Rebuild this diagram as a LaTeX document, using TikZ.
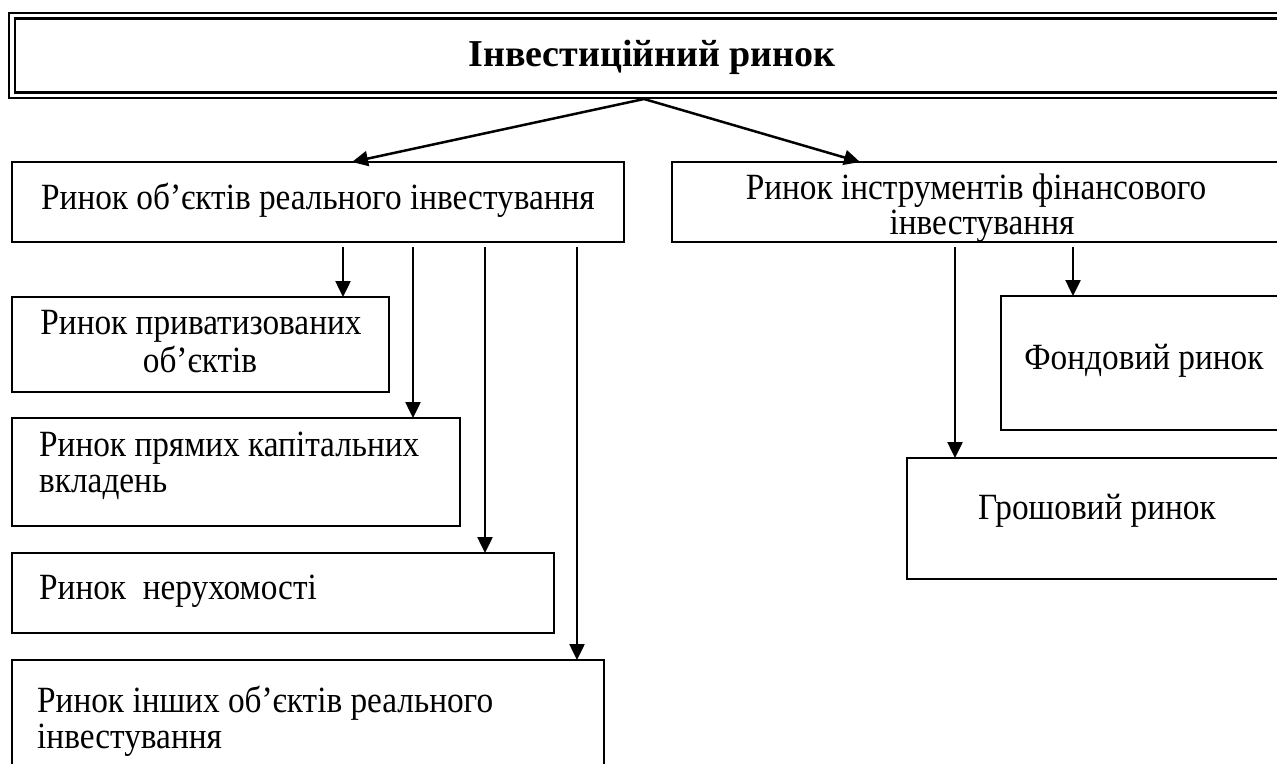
\documentclass[tikz,border=0pt]{standalone}
\usepackage{fontspec}
\setmainfont{Liberation Serif}
\newfontfamily\narrowserif[FakeStretch=0.9]{Liberation Serif}
\usetikzlibrary{arrows.meta}
\begin{document}
\begin{tikzpicture}[x=1pt,y=-1pt,
  box/.style={draw, line width=1.8pt, rectangle, anchor=north west, inner sep=0pt, outer sep=0pt},
  frame/.style={draw, line width=2.4pt},
  txt/.style={inner sep=0pt, font=\narrowserif\fontsize{37}{42}\selectfont},
  ttl/.style={inner sep=0pt, font=\fontsize{38}{44}\selectfont\bfseries},
  arr/.style={line width=2.5pt, -{Triangle[length=16pt,width=15pt]}}]
\useasboundingbox (0,0) rectangle (1277,763);
\clip (0,0) rectangle (1277,763);

% title frame with a double border, running past the right edge
\draw[frame] (1300,13) -- (9,13) -- (9,98) -- (1300,98);
\draw[frame] (1300,18.5) -- (15,18.5) -- (15,92.5) -- (1300,92.5);
\node[ttl, anchor=base] (title) at (652,66) {Інвестиційний ринок};
\coordinate (apex) at (644,99);

% second level
\node[box, minimum width=612pt, minimum height=80pt] (real) at (12,162) {};
\node[box, minimum width=700pt, minimum height=80pt] (fin) at (672,162) {};
\node[txt, anchor=base] (realt) at (318,209) {Ринок об’єктів реального інвестування};
\node[txt, anchor=base] (fint1) at (976,199) {Ринок інструментів фінансового};
\node[txt, anchor=base] (fint2) at (982,234) {інвестування};

\draw[arr] (apex) -- (real.north west -| 352,0);
\draw[arr] (apex) -- (fin.north west -| 860,0);

% objects of real investment
\node[box, minimum width=377pt, minimum height=95pt] (priv) at (12,297) {};
\node[box, minimum width=448pt, minimum height=108pt] (direct) at (12,418) {};
\node[box, minimum width=542pt, minimum height=80pt] (estate) at (12,553) {};
\node[box, minimum width=592pt, minimum height=200pt] (other) at (12,660) {};

\node[txt, anchor=base] (privt1) at (201,334) {Ринок приватизованих};
\node[txt, anchor=base] (privt2) at (200,372) {об’єктів};
\node[txt, anchor=base west] (directt1) at (39,456) {Ринок прямих капітальних};
\node[txt, anchor=base west] (directt2) at (39,492) {вкладень};
\node[txt, anchor=base west] (estatet) at (39,599) {Ринок\ \ нерухомості};
\node[txt, anchor=base west] (othert1) at (37,712) {Ринок інших об’єктів реального};
\node[txt, anchor=base west] (othert2) at (37,748) {інвестування};

\coordinate (r1) at (343,247);
\coordinate (r2) at (413,247);
\coordinate (r3) at (485,247);
\coordinate (r4) at (577,247);
\draw[arr] (r1) -- (r1 |- priv.north);
\draw[arr] (r2) -- (r2 |- direct.north);
\draw[arr] (r3) -- (r3 |- estate.north);
\draw[arr] (r4) -- (r4 |- other.north);

% instruments of financial investment
\node[box, minimum width=400pt, minimum height=134pt] (stock) at (1001,296) {};
\node[box, minimum width=500pt, minimum height=121pt] (money) at (907,458) {};
\node[txt, anchor=base] (stockt) at (1144,369) {Фондовий ринок};
\node[txt, anchor=base] (moneyt) at (1097,519) {Грошовий ринок};

\coordinate (f1) at (955,247);
\coordinate (f2) at (1073,247);
\draw[arr] (f1) -- (f1 |- money.north);
\draw[arr] (f2) -- (f2 |- stock.north);
\end{tikzpicture}
\end{document}
